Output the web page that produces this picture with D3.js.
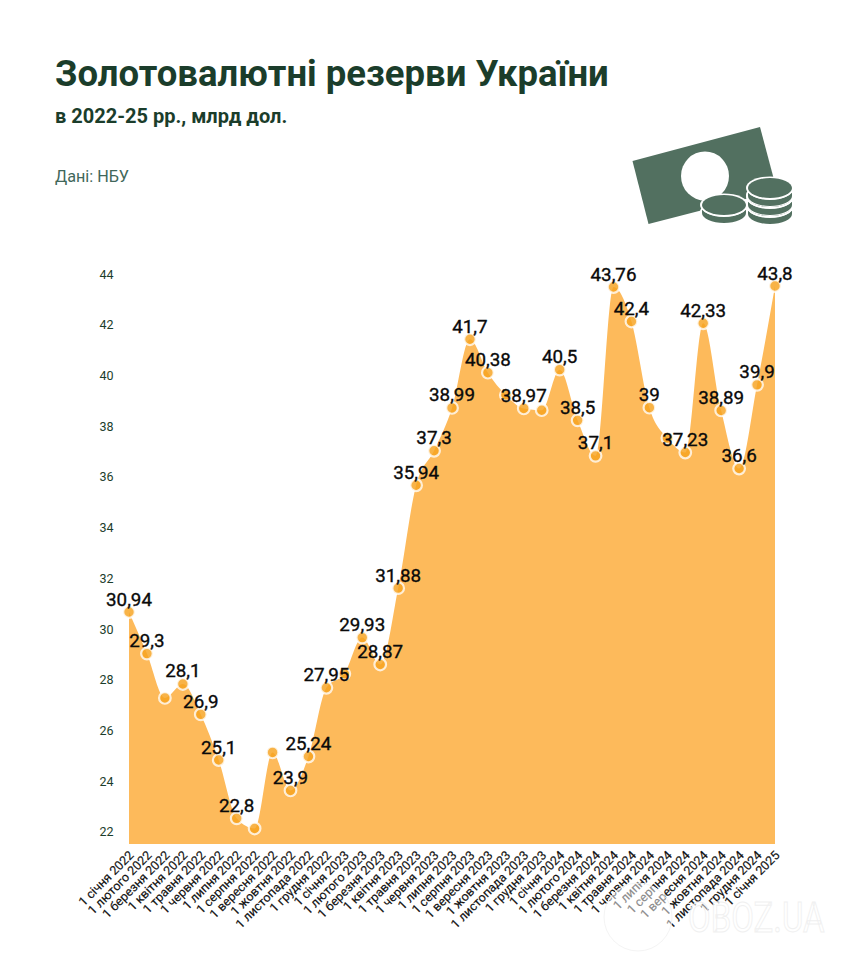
<!DOCTYPE html>
<html>
<head>
<meta charset="utf-8">
<title>Золотовалютні резерви України</title>
<script src="https://cdn.jsdelivr.net/npm/d3@7"></script>
<style>
  html, body { margin: 0; padding: 0; background: #fff; }
  svg { display: block; }
  text { font-family: Roboto, sans-serif; }
</style>
</head>
<body>
<div id="chart"></div>
<script>
"use strict";

const dates = [
  "1 січня 2022", "1 лютого 2022", "1 березня 2022", "1 квітня 2022", "1 травня 2022", "1 червня 2022",
  "1 липня 2022", "1 серпня 2022", "1 вересня 2022", "1 жовтня 2022", "1 листопада 2022", "1 грудня 2022",
  "1 січня 2023", "1 лютого 2023", "1 березня 2023", "1 квітня 2023", "1 травня 2023", "1 червня 2023",
  "1 липня 2023", "1 серпня 2023", "1 вересня 2023", "1 жовтня 2023", "1 листопада 2023", "1 грудня 2023",
  "1 січня 2024", "1 лютого 2024", "1 березня 2024", "1 квітня 2024", "1 травня 2024", "1 червня 2024",
  "1 липня 2024", "1 серпня 2024", "1 вересня 2024", "1 жовтня 2024", "1 листопада 2024", "1 грудня 2024",
  "1 січня 2025"
];

const reserves = [
  30.94, 29.3, 27.55, 28.1, 26.9, 25.1, 22.8, 22.4, 25.4, 23.9, 25.24, 27.95,
  28.5, 29.93, 28.87, 31.88, 35.94, 37.3, 38.99, 41.7, 40.38, 39.5, 38.97, 38.9,
  40.5, 38.5, 37.1, 43.76, 42.4, 39, 37.8, 37.23, 42.33, 38.89, 36.6, 39.9, 43.8
];

// points that carry no value label in the original
const unlabeled = [2, 7, 8, 12, 21, 23, 30];

const yTicks = [22, 24, 26, 28, 30, 32, 34, 36, 38, 40, 42, 44];

const width = 843, height = 965;

const svg = d3.select("#chart").append("svg")
    .attr("width", width)
    .attr("height", height);

/* Header */
svg.append("text").text("Золотовалютні резерви України")
    .attr("x", 55).attr("y", 86)
    .attr("font-size", 36.5).attr("font-weight", 700)
    .attr("fill", "#1b3d2b");

svg.append("text").text("в 2022-25 рр., млрд дол.")
    .attr("x", 55).attr("y", 123)
    .attr("font-size", 20).attr("font-weight", 700)
    .attr("fill", "#1b3d2b");

svg.append("text").text("Дані: НБУ")
    .attr("x", 55).attr("y", 182)
    .attr("font-size", 16.2).attr("font-weight", 400)
    .attr("fill", "#41675a");

/* Money icon */
function render_icon() {
  const icon = svg.append("g").attr("class", "icon");
  const green = "#527060";

  icon.append("path")
      .attr("d", "M632.5,161 L760,127 L777,191 L648.5,224 Z")
      .attr("fill", green);
  icon.append("ellipse")
      .attr("cx", 705).attr("cy", 176)
      .attr("rx", 24).attr("ry", 24.5)
      .attr("fill", "#fff");

  function coin(cx, cy) {
    icon.append("ellipse")
        .attr("cx", cx).attr("cy", cy + 7).attr("rx", 24).attr("ry", 12)
        .attr("fill", "#fff");
    icon.append("path")
        .attr("d", `M${cx - 22},${cy + 2} v6 a22,10 0 0 0 44,0 v-6 a22,10 0 0 1 -44,0 Z`)
        .attr("fill", green);
    icon.append("ellipse")
        .attr("cx", cx).attr("cy", cy).attr("rx", 24).attr("ry", 11.6)
        .attr("fill", "#fff");
    icon.append("ellipse")
        .attr("cx", cx).attr("cy", cy).attr("rx", 22).attr("ry", 10)
        .attr("fill", green);
  }

  [206, 197, 188].forEach(function(cy) { coin(770, cy); });
  [205].forEach(function(cy) { coin(724, cy); });
}
render_icon();

/* Scales */
const xScale = d3.scalePoint()
    .domain(dates)
    .range([129, 775]);

const yScale = d3.scaleLinear()
    .domain([21.6, 43.8])
    .range([286 + (43.8 - 21.6) * 25.35, 286]);

const bottom = 844;

/* Area */
const area = d3.area()
    .x((d, i) => xScale(dates[i]))
    .y0(bottom)
    .y1(d => yScale(d))
    .curve(d3.curveMonotoneX);

svg.append("path")
    .datum(reserves)
    .attr("d", area)
    .attr("fill", "#fdba5b");

/* Axes: only the labels are visible in the original */
const yAxis = d3.axisLeft(yScale)
    .tickValues(yTicks)
    .tickSize(0);

const yG = svg.append("g")
    .attr("transform", "translate(113.5,0)")
    .call(yAxis);
yG.select(".domain").remove();
yG.selectAll("text")
    .attr("x", 0)
    .attr("dy", "-0.22em")
    .attr("font-size", 12.5)
    .attr("font-family", "Roboto, sans-serif")
    .attr("fill", "#1b3d2b");

const xAxis = d3.axisBottom(xScale).tickSize(0);

const xG = svg.append("g")
    .attr("transform", `translate(0,${bottom})`)
    .call(xAxis);
xG.select(".domain").remove();
xG.selectAll("text")
    .attr("x", 0).attr("y", 0).attr("dy", 0)
    .attr("transform", "translate(5,12) rotate(-45)")
    .attr("text-anchor", "end")
    .attr("font-size", 12.5)
    .attr("font-family", "Roboto, sans-serif")
    .attr("stroke", "#111")
    .attr("stroke-width", 0.15)
    .attr("fill", "#111");

/* Markers */
svg.append("g").selectAll("circle")
    .data(reserves)
    .enter().append("circle")
    .attr("cx", (d, i) => xScale(dates[i]))
    .attr("cy", d => yScale(d))
    .attr("r", 5.8)
    .attr("fill", "#f7a21e")
    .attr("fill-opacity", 0.82)
    .attr("stroke", "#fff")
    .attr("stroke-opacity", 0.78)
    .attr("stroke-width", 2.2);

/* Value labels */
svg.append("g").selectAll("text")
    .data(reserves.map((d, i) => ({ value: d, i: i })).filter(d => !unlabeled.includes(d.i)))
    .enter().append("text")
    .text(d => String(d.value).replace(".", ","))
    .attr("x", d => xScale(dates[d.i]))
    .attr("y", d => yScale(d.value) - 6.5)
    .attr("text-anchor", "middle")
    .attr("font-size", 18.8)
    .attr("font-weight", 400)
    .attr("stroke", "#0a0a0a")
    .attr("stroke-width", 0.35)
    .attr("fill", "#0a0a0a");

/* Watermark */
const mark = svg.append("g").attr("class", "watermark");
mark.append("circle")
    .attr("cx", 638).attr("cy", 917).attr("r", 34)
    .attr("fill", "#fff").attr("fill-opacity", 0.5)
    .attr("stroke", "#f4f4f4").attr("stroke-width", 1);
mark.append("text").text("OBOZ.UA")
    .attr("transform", "translate(688,932) scale(1,1.28)")
    .attr("font-size", 33)
    .attr("fill", "#fff").attr("fill-opacity", 0.5)
    .attr("stroke", "#f0f0f0").attr("stroke-width", 0.8);
</script>
</body>
</html>
